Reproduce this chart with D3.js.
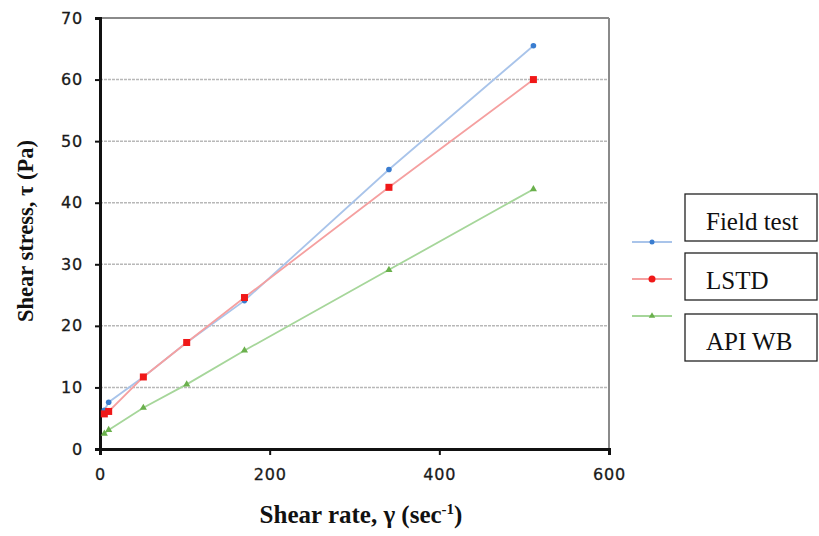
<!DOCTYPE html>
<html><head><meta charset="utf-8">
<script src="https://cdn.jsdelivr.net/npm/d3@7"></script>
<style>body{margin:0;background:#fff}</style>
</head><body><svg id="c" width="819" height="536"></svg>
<script>
const seriesNames = ["Field test", "LSTD", "API WB"];
const seriesColors = ["#3a7dd0", "#f01818", "#6ab04c"];
const lineColors = ["#a9c4ea", "#f5a0a0", "#a6d69a"];
const shearRate = [5.11, 10.22, 51.1, 102.2, 170.3, 340.6, 510.9];
const fieldTest = [6.3, 7.6, 11.7, 17.3, 24.1, 45.4, 65.5];
const lstd = [5.7, 6.1, 11.7, 17.3, 24.6, 42.5, 60.0];
const apiWB = [2.5, 3.1, 6.7, 10.5, 16.0, 29.1, 42.2];
const xTicks = [0, 200, 400, 600];
const yTicks = [0, 10, 20, 30, 40, 50, 60, 70];

const svg = d3.select("#c");
const x = d3.scaleLinear().domain([0, 600]).range([100, 609]);
const y = d3.scaleLinear().domain([0, 70]).range([449, 18]);

// gridlines
svg.append("g").selectAll("line").data(yTicks.filter(d => d > 0 && d < 70)).join("line")
  .attr("x1", 100).attr("x2", 609).attr("y1", d => y(d)).attr("y2", d => y(d))
  .attr("stroke", "#b8b8b8").attr("stroke-width", 1.5).attr("stroke-dasharray", "3,1");
// top and right frame
svg.append("line").attr("x1", 100).attr("x2", 609).attr("y1", y(70)).attr("y2", y(70)).attr("stroke", "#8a8a8a").attr("stroke-width", 2);
svg.append("line").attr("x1", 609).attr("x2", 609).attr("y1", y(70)).attr("y2", y(0)).attr("stroke", "#8a8a8a").attr("stroke-width", 2);

const tickFont = "'DejaVu Sans', Verdana, sans-serif";
const yAxis = svg.append("g").attr("transform", "translate(100,0)")
  .call(d3.axisLeft(y).tickValues(yTicks).tickSize(5).tickPadding(12).tickFormat(d3.format("d")));
const xAxis = svg.append("g").attr("transform", "translate(0,449)")
  .call(d3.axisBottom(x).tickValues(xTicks).tickSize(6).tickPadding(14).tickFormat(d3.format("d")));
[yAxis, xAxis].forEach(a => {
  a.select(".domain").attr("stroke", "#111").attr("stroke-width", 3);
  a.selectAll(".tick line").attr("stroke", "#111").attr("stroke-width", 2);
  a.selectAll("text").attr("font-family", tickFont).attr("font-size", 16).attr("letter-spacing", 0.8)
    .attr("fill", "#1a1a1a").attr("stroke", "#1a1a1a").attr("stroke-width", 0.3);
});

const data = [fieldTest, lstd, apiWB];
const line = d3.line().x((d, i) => x(shearRate[i])).y(d => y(d));
data.forEach((vals, k) => {
  svg.append("path").datum(vals).attr("d", line).attr("fill", "none")
    .attr("stroke", lineColors[k]).attr("stroke-width", 1.8);
});
data.forEach((vals, k) => {
  const g = svg.append("g");
  vals.forEach((v, i) => {
    const cx = x(shearRate[i]), cy = y(v);
    if (k === 0) g.append("circle").attr("cx", cx).attr("cy", cy).attr("r", 2.8).attr("fill", seriesColors[k]);
    else if (k === 1) g.append("rect").attr("x", cx - 3.5).attr("y", cy - 3.5).attr("width", 7).attr("height", 7).attr("fill", seriesColors[k]);
    else g.append("path").attr("d", d3.symbol(d3.symbolTriangle, 22)()).attr("transform", `translate(${cx},${cy})`).attr("fill", seriesColors[k]);
  });
});

// axis titles
svg.append("text").attr("transform", "translate(33,231) rotate(-90)").attr("text-anchor", "middle")
  .attr("font-family", "'Liberation Serif', 'Times New Roman', serif").attr("font-weight", "bold").attr("font-size", 22.5)
  .attr("fill", "#111").text("Shear stress, τ (Pa)");
const xt = svg.append("text").attr("x", 361).attr("y", 523).attr("text-anchor", "middle")
  .attr("font-family", "'Liberation Serif', 'Times New Roman', serif").attr("font-weight", "bold").attr("font-size", 25)
  .attr("fill", "#111");
xt.append("tspan").text("Shear rate, γ (sec");
xt.append("tspan").attr("font-size", 15).attr("dy", -9).text("-1");
xt.append("tspan").attr("dy", 9).text(")");

// legend
const legY = [242, 279, 316];
const boxY = [194, 253, 314];
seriesNames.forEach((n, k) => {
  svg.append("line").attr("x1", 632).attr("x2", 672).attr("y1", legY[k]).attr("y2", legY[k])
    .attr("stroke", lineColors[k]).attr("stroke-width", 1.8);
  const cx = 652, cy = legY[k];
  if (k === 0) svg.append("circle").attr("cx", cx).attr("cy", cy).attr("r", 2.5).attr("fill", seriesColors[k]);
  else if (k === 1) svg.append("circle").attr("cx", cx).attr("cy", cy).attr("r", 3.5).attr("fill", seriesColors[k]);
  else svg.append("path").attr("d", d3.symbol(d3.symbolTriangle, 18)()).attr("transform", `translate(${cx},${cy})`).attr("fill", seriesColors[k]);
  svg.append("rect").attr("x", 685).attr("y", boxY[k]).attr("width", 132).attr("height", 47)
    .attr("fill", "none").attr("stroke", "#222").attr("stroke-width", 1.3);
  svg.append("text").attr("x", 706).attr("y", boxY[k] + 36).attr("font-family", "'Liberation Serif', 'Times New Roman', serif")
    .attr("font-size", 25).attr("fill", "#111").text(n);
});
</script></body></html>
